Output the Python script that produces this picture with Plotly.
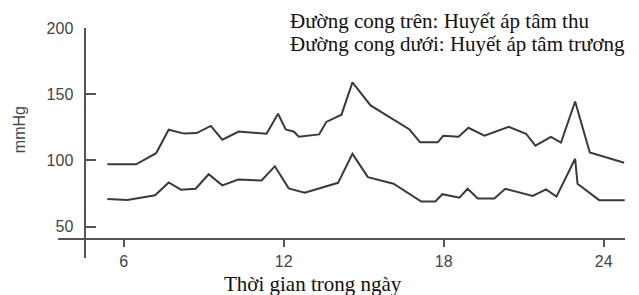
import plotly.graph_objects as go

# Hours of day (x) and blood pressure values in mmHg
hours_sys = [5.39, 6.47, 7.22, 7.69, 8.27, 8.74, 9.27, 9.70, 10.32, 11.36, 11.79, 12.08,
             12.39, 12.57, 13.33, 13.60, 14.17, 14.58, 15.26, 16.72, 17.12, 17.78, 17.99,
             18.56, 18.93, 19.53, 20.44, 21.09, 21.44, 22.02, 22.40, 22.93, 23.48, 24.77]
systolic = [97, 97, 105.4, 123.1, 120.2, 120.6, 126.0, 115.6, 121.8, 120.1, 135.2, 123.3,
            121.6, 117.8, 119.6, 129.0, 134.5, 158.9, 141.5, 123.3, 113.6, 113.6, 118.6,
            117.8, 124.6, 118.6, 125.3, 120.1, 111.1, 117.8, 113.4, 144.5, 105.9, 98.2]

hours_dia = [5.39, 6.14, 7.18, 7.69, 8.15, 8.70, 9.19, 9.70, 10.30, 11.17, 11.67, 12.19,
             12.79, 14.04, 14.58, 15.16, 16.12, 17.16, 17.69, 17.95, 18.59, 18.90, 19.28,
             19.90, 20.31, 21.34, 21.84, 22.23, 22.93, 23.02, 23.83, 24.79]
diastolic = [70.8, 70.1, 73.6, 83.3, 77.8, 78.5, 89.5, 81.1, 85.5, 84.8, 95.5, 78.8,
             75.5, 83.0, 104.9, 87.3, 82.3, 68.9, 68.9, 74.4, 71.8, 78.5, 71.1,
             71.1, 78.5, 73.1, 78.1, 72.6, 101.2, 82.3, 69.9, 69.9]

x_ticks = [6, 12, 18, 24]
y_ticks = [50, 100, 150, 200]

line_color = "#3a3a3a"
axis_color = "#555555"
tick_font = dict(family="Liberation Sans, Arial, sans-serif", size=16, color="#444444")

fig = go.Figure()
fig.add_trace(go.Scatter(x=hours_sys, y=systolic, mode="lines",
                         line=dict(color=line_color, width=2), showlegend=False))
fig.add_trace(go.Scatter(x=hours_dia, y=diastolic, mode="lines",
                         line=dict(color=line_color, width=2), showlegend=False))

# The page body has an 8px default margin, so the figure is sized to fit inside it.
fig.update_layout(
    width=631, height=287,
    margin=dict(l=50, r=14, t=17, b=37),
    paper_bgcolor="white", plot_bgcolor="white",
    font=dict(family="Liberation Sans, Arial, sans-serif", color="#444444"),
    xaxis=dict(range=[3.54, 24.8], tickvals=x_ticks, ticks="outside", ticklen=8,
               tickcolor=axis_color, tickwidth=1.5,
               showline=True, linecolor=axis_color, linewidth=1.5,
               showgrid=False, zeroline=False, anchor="free", position=0.0845,
               tickfont=tick_font),
    yaxis=dict(range=[26.2, 200], tickvals=y_ticks, ticks="inside", ticklen=10,
               tickcolor=axis_color, tickwidth=1.5, ticklabelstandoff=8,
               showline=True, linecolor=axis_color, linewidth=1.5,
               showgrid=False, zeroline=False, anchor="free", position=0.0481,
               tickfont=tick_font),
)

serif = "Liberation Serif, Times New Roman, serif"
fig.add_annotation(text="Đường cong trên: Huyết áp tâm thu", xref="paper", yref="paper",
                   x=0.406, y=1.03, xanchor="left", yanchor="middle", showarrow=False,
                   font=dict(family=serif, size=21, color="#111111"))
fig.add_annotation(text="Đường cong dưới: Huyết áp tâm trương", xref="paper", yref="paper",
                   x=0.406, y=0.932, xanchor="left", yanchor="middle", showarrow=False,
                   font=dict(family=serif, size=21, color="#111111"))
fig.add_annotation(text="Thời gian trong ngày", xref="paper", yref="paper",
                   x=0.449, y=-0.112, xanchor="center", yanchor="middle", showarrow=False,
                   font=dict(family=serif, size=21, color="#111111"))
fig.add_annotation(text="mmHg", xref="paper", yref="paper", textangle=-90,
                   x=-0.0679, y=0.558, xanchor="center", yanchor="middle", showarrow=False,
                   font=dict(family="Liberation Sans, Arial, sans-serif", size=16, color="#444444"))

fig.write_html("out.html")
